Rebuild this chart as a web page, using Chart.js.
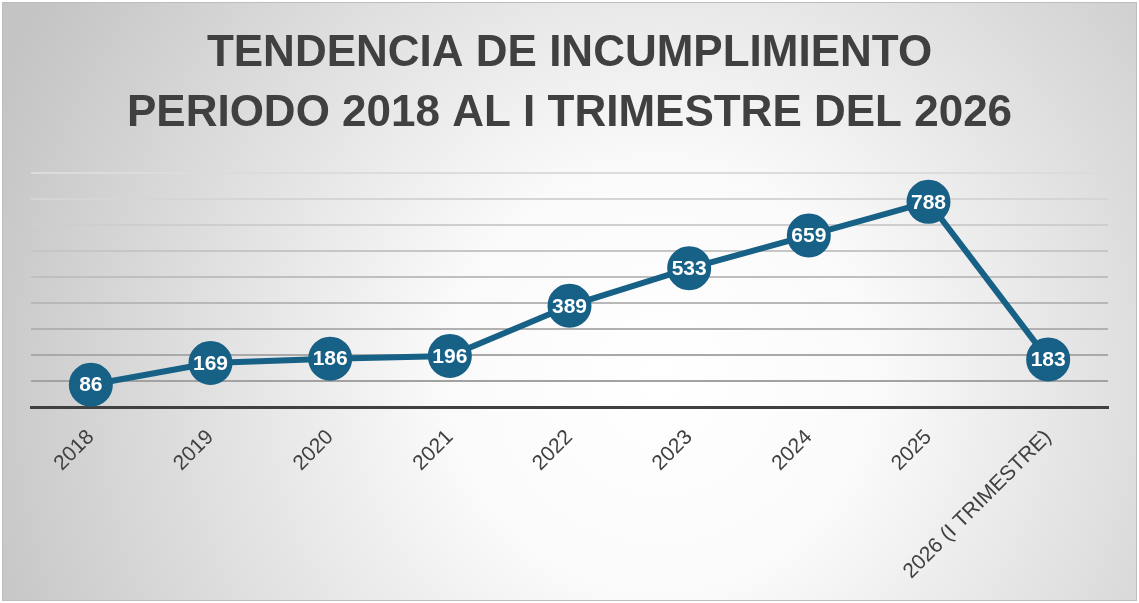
<!DOCTYPE html>
<html>
<head>
<meta charset="utf-8">
<script src="https://cdn.jsdelivr.net/npm/chart.js@4"></script>
<style>
  html, body { margin: 0; padding: 0; background: #fff; }
  #wrap { width: 1139px; height: 603px; position: relative; }
</style>
</head>
<body>
<div id="wrap"><canvas id="chart"></canvas></div>
<script>
// datos
const years = ['2018', '2019', '2020', '2021', '2022', '2023', '2024', '2025', '2026 (I TRIMESTRE)'];
const incumplimientos = [86, 169, 186, 196, 389, 533, 659, 788, 183];
const titleLines = ['TENDENCIA DE INCUMPLIMIENTO', 'PERIODO 2018 AL I TRIMESTRE DEL 2026'];

const lineColor = '#176086';
const textColor = '#404040';

// fondo con degradado radial y marco
const backgroundPlugin = {
  id: 'fondo',
  beforeDraw(chart) {
    const ctx = chart.ctx;
    const w = chart.width, h = chart.height;
    ctx.save();
    ctx.fillStyle = '#ffffff';
    ctx.fillRect(0, 0, w, h);
    const g = ctx.createRadialGradient(660, 380, 0, 660, 380, 720);
    g.addColorStop(0, '#ffffff');
    g.addColorStop(0.3, '#fafafa');
    g.addColorStop(1, '#c4c4c4');
    ctx.fillStyle = g;
    ctx.fillRect(2, 2, w - 4, h - 4);
    ctx.strokeStyle = '#bdbdbd';
    ctx.lineWidth = 1;
    ctx.strokeRect(2.5, 2.5, w - 5, h - 5);
    ctx.restore();
  }
};

// etiquetas de valor dentro de cada circulo
const valueLabels = {
  id: 'valores',
  afterDatasetsDraw(chart) {
    const ctx = chart.ctx;
    const meta = chart.getDatasetMeta(0);
    ctx.save();
    ctx.fillStyle = '#ffffff';
    ctx.font = 'bold 21px "Liberation Sans", Arial, sans-serif';
    ctx.textAlign = 'center';
    ctx.textBaseline = 'middle';
    meta.data.forEach((pt, i) => {
      ctx.fillText(String(chart.data.datasets[0].data[i]), pt.x, pt.y + 1);
    });
    ctx.restore();
  }
};

new Chart(document.getElementById('chart'), {
  type: 'line',
  data: {
    labels: years,
    datasets: [{
      data: incumplimientos,
      borderColor: lineColor,
      backgroundColor: lineColor,
      borderWidth: 6,
      pointRadius: 21,
      pointHoverRadius: 21,
      pointBorderWidth: 2,
      pointBorderColor: lineColor,
      pointBackgroundColor: lineColor,
      tension: 0,
      clip: false
    }]
  },
  options: {
    responsive: true,
    maintainAspectRatio: false,
    animation: false,
    layout: { padding: { left: 31, right: 31, top: 0, bottom: 9 } },
    plugins: {
      legend: { display: false },
      tooltip: { enabled: false },
      title: {
        display: true,
        text: titleLines,
        color: textColor,
        font: { family: '"Liberation Sans", Arial, sans-serif', size: 44, weight: 'bold', lineHeight: 1.36 },
        padding: { top: 24, bottom: 29 }
      }
    },
    scales: {
      x: {
        offset: true,
        grid: { display: false },
        border: { display: true, color: textColor, width: 3 },
        ticks: {
          color: textColor,
          font: { family: '"Liberation Sans", Arial, sans-serif', size: 21 },
          minRotation: 45,
          maxRotation: 45,
          padding: 10,
          autoSkip: false
        }
      },
      y: {
        min: 0,
        max: 900,
        ticks: { display: false, stepSize: 100 },
        border: { display: false },
        grid: {
          drawTicks: false,
          lineWidth: 2,
          color: (c) => {
            // lineas mas claras arriba, mas oscuras abajo
            const t = c.index / 9;
            const v = Math.round(155 + t * 65);
            return `rgb(${v},${v},${v})`;
          }
        }
      }
    }
  },
  plugins: [backgroundPlugin, valueLabels]
});
</script>
</body>
</html>
